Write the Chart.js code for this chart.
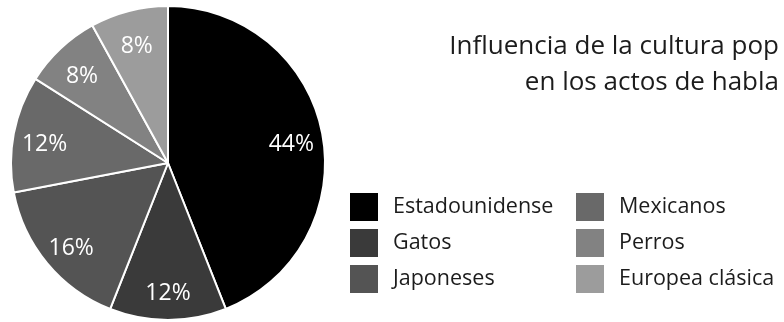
<!DOCTYPE html>
<html>
<head>
<meta charset="utf-8">
<script src="https://cdn.jsdelivr.net/npm/chart.js@4/dist/chart.umd.min.js"></script>
<style>
  html, body { margin: 0; padding: 0; background: #fff; }
  #wrap { width: 784px; height: 322px; }
</style>
</head>
<body>
<div id="wrap"><canvas id="c" width="784" height="322"></canvas></div>
<script>
// data
const labels = ['Estadounidense', 'Gatos', 'Japoneses', 'Mexicanos', 'Perros', 'Europea clásica'];
const values = [44, 12, 16, 12, 8, 8];
const colors = ['#000000', '#3a3a3a', '#545454', '#696969', '#828282', '#9c9c9c'];
const titleLines = ['Influencia de la cultura pop', 'en los actos de habla'];

const FONT = '"Open Sans", "DejaVu Sans", sans-serif';
const TEXT = '#1c1c1c';

// percentage labels inside each slice
const sliceLabels = {
  id: 'sliceLabels',
  afterDatasetsDraw(chart) {
    const ctx = chart.ctx;
    const meta = chart.getDatasetMeta(0);
    ctx.save();
    ctx.fillStyle = '#ffffff';
    ctx.font = '23px ' + FONT;
    ctx.textAlign = 'center';
    ctx.textBaseline = 'middle';
    meta.data.forEach((arc, i) => {
      const mid = (arc.startAngle + arc.endAngle) / 2;
      const r = arc.outerRadius * 0.8;
      ctx.fillText(values[i] + '%', arc.x + Math.cos(mid) * r, arc.y + Math.sin(mid) * r + 5);
    });
    ctx.restore();
  }
};

// title and two-column legend on the right side
const sidePanel = {
  id: 'sidePanel',
  afterDraw(chart) {
    const ctx = chart.ctx;
    ctx.save();
    ctx.fillStyle = TEXT;
    ctx.font = '26px ' + FONT;
    ctx.textAlign = 'right';
    ctx.textBaseline = 'alphabetic';
    ctx.fillText(titleLines[0], 779, 54);
    ctx.fillText(titleLines[1], 779, 90);

    const cols = [350, 576];
    const rowTop = 193, rowGap = 36, box = 28;
    ctx.font = '21.5px ' + FONT;
    ctx.textAlign = 'left';
    ctx.textBaseline = 'alphabetic';
    labels.forEach((lab, i) => {
      const col = Math.floor(i / 3), row = i % 3;
      const x = cols[col], y = rowTop + row * rowGap;
      ctx.fillStyle = colors[i];
      ctx.fillRect(x, y, box, box);
      ctx.fillStyle = TEXT;
      ctx.fillText(lab, x + 43, y + 20);
    });
    ctx.restore();
  }
};

new Chart(document.getElementById('c'), {
  type: 'pie',
  data: {
    labels: labels,
    datasets: [{
      data: values,
      backgroundColor: colors,
      borderColor: '#ffffff',
      borderWidth: 2
    }]
  },
  options: {
    responsive: false,
    animation: false,
    radius: 157,
    layout: { padding: { left: 10, right: 458, top: 6, bottom: 2 } },
    plugins: {
      legend: { display: false },
      title: { display: false },
      tooltip: { enabled: false }
    }
  },
  plugins: [sliceLabels, sidePanel]
});
</script>
</body>
</html>
